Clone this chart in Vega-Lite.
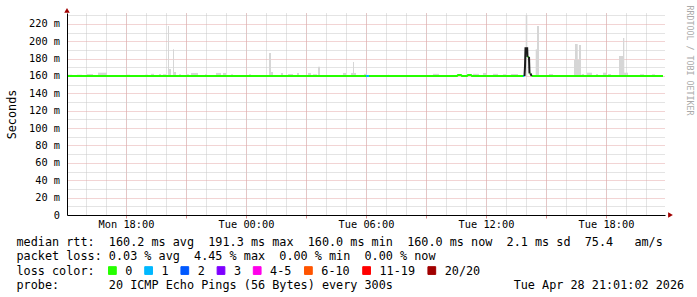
{
  "$schema": "https://vega.github.io/schema/vega-lite/v6.json",
  "width": 598,
  "height": 202,
  "autosize": {"type": "none"},
  "padding": {"left": 67, "top": 13, "right": 32, "bottom": 82},
  "background": "white",
  "config": {"view": {"stroke": null}, "font": "DejaVu Sans Mono"},
  "datasets": {
    "smoke": [
      {"t0": 15.1, "t1": 15.3, "lo": 159.5, "hi": 161.5},
      {"t0": 15.55, "t1": 15.8, "lo": 159.5, "hi": 161.5},
      {"t0": 16.05, "t1": 16.35, "lo": 159.5, "hi": 162.3},
      {"t0": 16.6, "t1": 17.05, "lo": 159.5, "hi": 163.8},
      {"t0": 18.05, "t1": 18.2, "lo": 159.5, "hi": 161.5},
      {"t0": 18.95, "t1": 19.1, "lo": 159.5, "hi": 161.5},
      {"t0": 19.25, "t1": 19.4, "lo": 159.5, "hi": 162.5},
      {"t0": 19.65, "t1": 19.75, "lo": 159.5, "hi": 162.3},
      {"t0": 19.85, "t1": 20.0, "lo": 159.5, "hi": 162},
      {"t0": 20.1, "t1": 20.25, "lo": 159.5, "hi": 168},
      {"t0": 20.1, "t1": 20.15, "lo": 159.5, "hi": 217.6},
      {"t0": 20.35, "t1": 20.5, "lo": 159.5, "hi": 164.6},
      {"t0": 20.35, "t1": 20.4, "lo": 159.5, "hi": 190.7},
      {"t0": 20.65, "t1": 20.75, "lo": 159.5, "hi": 162},
      {"t0": 21.0, "t1": 21.15, "lo": 159.5, "hi": 162},
      {"t0": 21.25, "t1": 21.6, "lo": 159.5, "hi": 163.5},
      {"t0": 21.95, "t1": 22.05, "lo": 159.5, "hi": 162},
      {"t0": 22.5, "t1": 22.75, "lo": 159.5, "hi": 163.5},
      {"t0": 22.85, "t1": 23.0, "lo": 159.5, "hi": 163.5},
      {"t0": 23.25, "t1": 23.35, "lo": 159.5, "hi": 162},
      {"t0": 24.15, "t1": 24.25, "lo": 159.5, "hi": 162},
      {"t0": 25.15, "t1": 25.25, "lo": 159.5, "hi": 186.5},
      {"t0": 25.25, "t1": 25.35, "lo": 159.5, "hi": 164.6},
      {"t0": 25.75, "t1": 25.85, "lo": 159.5, "hi": 163.5},
      {"t0": 26.1, "t1": 26.35, "lo": 159.5, "hi": 162.3},
      {"t0": 26.55, "t1": 26.65, "lo": 159.5, "hi": 163.5},
      {"t0": 27.1, "t1": 27.25, "lo": 159.5, "hi": 163.5},
      {"t0": 27.35, "t1": 27.55, "lo": 159.5, "hi": 162},
      {"t0": 27.6, "t1": 27.7, "lo": 159.5, "hi": 170.7},
      {"t0": 28.85, "t1": 29.0, "lo": 159.5, "hi": 163.5},
      {"t0": 29.25, "t1": 29.5, "lo": 159.5, "hi": 163.5},
      {"t0": 29.35, "t1": 29.4, "lo": 159.5, "hi": 176},
      {"t0": 29.9, "t1": 30.05, "lo": 159.5, "hi": 162.5},
      {"t0": 31.1, "t1": 31.15, "lo": 159.5, "hi": 161.5},
      {"t0": 33.35, "t1": 33.65, "lo": 159.5, "hi": 162.5},
      {"t0": 35.35, "t1": 35.65, "lo": 159.5, "hi": 162.5},
      {"t0": 35.85, "t1": 36.0, "lo": 159.5, "hi": 163.5},
      {"t0": 36.35, "t1": 36.6, "lo": 159.5, "hi": 162.5},
      {"t0": 36.85, "t1": 37.0, "lo": 159.5, "hi": 162},
      {"t0": 37.25, "t1": 37.6, "lo": 159.5, "hi": 162.3},
      {"t0": 37.985, "t1": 38.065, "lo": 159.5, "hi": 230.2},
      {"t0": 38.485, "t1": 38.65, "lo": 159.5, "hi": 190.7},
      {"t0": 38.55, "t1": 38.65, "lo": 159.5, "hi": 217.6},
      {"t0": 39.15, "t1": 39.35, "lo": 159.5, "hi": 162.3},
      {"t0": 40.4, "t1": 40.75, "lo": 159.5, "hi": 178.4},
      {"t0": 40.45, "t1": 40.585, "lo": 159.5, "hi": 196.8},
      {"t0": 40.65, "t1": 40.75, "lo": 159.5, "hi": 195.7},
      {"t0": 40.785, "t1": 40.9, "lo": 159.5, "hi": 162.3},
      {"t0": 41.05, "t1": 41.3, "lo": 159.5, "hi": 163.8},
      {"t0": 41.5, "t1": 41.6, "lo": 159.5, "hi": 162.3},
      {"t0": 41.85, "t1": 42.0, "lo": 159.5, "hi": 163.8},
      {"t0": 42.1, "t1": 42.25, "lo": 159.5, "hi": 162.3},
      {"t0": 42.65, "t1": 42.85, "lo": 159.5, "hi": 183},
      {"t0": 42.85, "t1": 42.915, "lo": 159.5, "hi": 203.7},
      {"t0": 42.9, "t1": 43.1, "lo": 159.5, "hi": 163.8},
      {"t0": 43.7, "t1": 43.9, "lo": 159.5, "hi": 162},
      {"t0": 44.3, "t1": 44.45, "lo": 159.5, "hi": 162}
    ],
    "median": [
      {"seg": "g1", "t": 15.05, "v": 160, "loss": "0"},
      {"seg": "g1", "t": 30.0, "v": 160, "loss": "0"},
      {"seg": "b1", "t": 30.0, "v": 160, "loss": "1"},
      {"seg": "b1", "t": 30.15, "v": 160, "loss": "1"},
      {"seg": "g2", "t": 30.15, "v": 160, "loss": "0"},
      {"seg": "g2", "t": 34.55, "v": 160, "loss": "0"},
      {"seg": "g2", "t": 34.6, "v": 161, "loss": "0"},
      {"seg": "g2", "t": 34.75, "v": 161, "loss": "0"},
      {"seg": "g2", "t": 34.8, "v": 160, "loss": "0"},
      {"seg": "g2", "t": 35.05, "v": 160, "loss": "0"},
      {"seg": "g2", "t": 35.1, "v": 161, "loss": "0"},
      {"seg": "g2", "t": 35.25, "v": 161, "loss": "0"},
      {"seg": "g2", "t": 35.3, "v": 160, "loss": "0"},
      {"seg": "g2", "t": 37.85, "v": 160, "loss": "0"},
      {"seg": "b2", "t": 37.85, "v": 160, "loss": "1"},
      {"seg": "b2", "t": 37.925, "v": 160, "loss": "1"},
      {"seg": "g3", "t": 38.075, "v": 182, "loss": "0"},
      {"seg": "g3", "t": 38.15, "v": 182, "loss": "0"},
      {"seg": "g4", "t": 38.175, "v": 163, "loss": "0"},
      {"seg": "g4", "t": 38.225, "v": 163, "loss": "0"},
      {"seg": "g5", "t": 38.275, "v": 160, "loss": "0"},
      {"seg": "g5", "t": 44.85, "v": 160, "loss": "0"}
    ],
    "dark": [
      {"seg": "k1", "t": 37.925, "v": 160},
      {"seg": "k1", "t": 37.95, "v": 171},
      {"seg": "k1", "t": 37.975, "v": 192},
      {"seg": "k1", "t": 38.06, "v": 192},
      {"seg": "k1", "t": 38.075, "v": 182},
      {"seg": "k2", "t": 38.15, "v": 182},
      {"seg": "k2", "t": 38.175, "v": 163},
      {"seg": "k3", "t": 38.225, "v": 163},
      {"seg": "k3", "t": 38.275, "v": 160}
    ],
    "arrows": [
      {"t": 15.05, "v": 235.4, "shape": "triangle-up"},
      {"t": 45.225, "v": 0, "shape": "triangle-right"}
    ]
  },
  "layer": [
    {
      "data": {"name": "smoke"},
      "mark": {"type": "rect", "color": "#d6d6d6", "opacity": 1},
      "encoding": {
        "x": {"field": "t0", "type": "quantitative",
          "scale": {"domain": [15.05, 44.95], "nice": false, "zero": false},
          "axis": {"orient": "bottom", "values": [16,17,18,19,20,21,22,23,24,25,26,27,28,29,30,31,32,33,34,35,36,37,38,39,40,41,42,43,44],
            "grid": true, "gridColor": "#c8c8c8", "gridDash": [1, 1], "gridWidth": 1,
            "labels": false, "ticks": false, "domain": false, "title": null}},
        "x2": {"field": "t1"},
        "y": {"field": "lo", "type": "quantitative",
          "scale": {"domain": [0, 232.5], "nice": false},
          "axis": {"orient": "left", "values": [10,30,50,70,90,110,130,150,170,190,210,230],
            "grid": true, "gridColor": "#c8c8c8", "gridDash": [1, 1], "gridWidth": 1,
            "labels": false, "ticks": false, "domain": false, "title": null}},
        "y2": {"field": "hi"}
      }
    },
    {
      "data": {"name": "median"},
      "mark": {"type": "point", "shape": "square", "filled": true, "size": 4, "opacity": 0},
      "encoding": {
        "x": {"field": "t", "type": "quantitative",
          "scale": {"domain": [15.05, 44.95], "nice": false, "zero": false}, "axis": null},
        "y": {"field": "v", "type": "quantitative",
          "scale": {"domain": [0, 232.5], "nice": false}, "axis": null},
        "color": {"field": "loss", "type": "nominal",
          "scale": {"domain": ["0","1","2","3","4-5","6-10","11-19","20/20"],
            "range": ["#26ff00","#00b8ff","#0059ff","#7e00ff","#ff00ea","#ff5500","#ff0000","#a10000"]},
          "legend": {"orient": "none", "legendX": 39.5, "legendY": 251.5, "direction": "horizontal",
            "title": null,
            "labelFont": "DejaVu Sans Mono", "labelFontSize": 11.8, "labelColor": "#000", "labelOffset": 7,
            "columnPadding": 10.2, "symbolType": "square", "symbolSize": 60, "padding": 0,
            "symbolOpacity": 1, "symbolStrokeColor": "#000", "symbolStrokeWidth": 1}}
      }
    },
    {
      "data": {"name": "median"},
      "mark": {"type": "line", "strokeWidth": 2, "opacity": 1},
      "encoding": {
        "x": {"field": "t", "type": "quantitative",
          "scale": {"domain": [15.05, 44.95], "nice": false, "zero": false},
          "axis": {"orient": "bottom", "values": [18,21,24,27,30,33,36,39,42],
            "grid": true, "gridColor": "#e4a9a9", "gridDash": [1, 1], "gridWidth": 1,
            "labels": false, "ticks": true, "tickSize": 3, "tickColor": "#d98c8c", "domain": false, "title": null}},
        "y": {"field": "v", "type": "quantitative",
          "scale": {"domain": [0, 232.5], "nice": false},
          "axis": {"orient": "left", "values": [20,40,60,80,100,120,140,160,180,200,220],
            "grid": true, "gridColor": "#e4a9a9", "gridDash": [1, 1], "gridWidth": 1,
            "labels": false, "ticks": false, "domain": false, "title": null}},
        "detail": {"field": "seg"},
        "color": {"field": "loss", "type": "nominal", "legend": null}
      }
    },
    {
      "data": {"name": "dark"},
      "mark": {"type": "line", "strokeWidth": 2, "color": "#1a1a1a", "opacity": 1},
      "encoding": {
        "x": {"field": "t", "type": "quantitative",
          "scale": {"domain": [15.05, 44.95], "nice": false, "zero": false},
          "axis": {"orient": "bottom", "values": [18,24,30,36,42], "zindex": 1,
            "labelExpr": "(datum.value < 24 ? 'Mon ' : 'Tue ') + ((datum.value % 24) < 10 ? '0' : '') + (datum.value % 24) + ':00'",
            "labelFont": "DejaVu Sans Mono", "labelFontSize": 10.3, "labelColor": "#000",
            "labelBaseline": "alphabetic", "labelPadding": 12.3,
            "grid": false, "ticks": false, "domain": true, "domainColor": "#000", "domainWidth": 1,
            "title": [
              "median rtt:\u00a0\u00a0160.2 ms avg\u00a0\u00a0191.3 ms max\u00a0\u00a0160.0 ms min\u00a0\u00a0160.0 ms now\u00a0\u00a02.1 ms sd\u00a0\u00a075.4\u00a0\u00a0\u00a0am/s",
              "packet loss: 0.03 % avg\u00a0\u00a04.45 % max\u00a0\u00a00.00 % min\u00a0\u00a00.00 % now",
              "loss color:",
              "probe:\u00a0\u00a0\u00a0\u00a0\u00a0\u00a0\u00a020 ICMP Echo Pings (56 Bytes) every 300s\u00a0\u00a0\u00a0\u00a0\u00a0\u00a0\u00a0\u00a0\u00a0\u00a0\u00a0\u00a0\u00a0\u00a0\u00a0\u00a0\u00a0Tue Apr 28 21:01:02 2026"
            ],
            "titleFont": "DejaVu Sans Mono", "titleFontSize": 11.8, "titleFontWeight": "normal", "titleColor": "#000",
            "titleX": -51, "titleY": 30.3, "titleAlign": "left", "titleAnchor": "start", "titleBaseline": "alphabetic",
            "titleLineHeight": 14.5}},
        "y": {"field": "v", "type": "quantitative",
          "scale": {"domain": [0, 232.5], "nice": false},
          "axis": {"orient": "left", "values": [0,20,40,60,80,100,120,140,160,180,200,220], "zindex": 1,
            "labelExpr": "datum.value == 0 ? '0' : datum.value + ' m'",
            "labelFont": "DejaVu Sans Mono", "labelFontSize": 10.3, "labelColor": "#000", "labelPadding": 7.5,
            "grid": false, "ticks": false, "domain": true, "domainColor": "#000", "domainWidth": 1,
            "title": "Seconds", "titleFont": "DejaVu Sans Mono", "titleFontSize": 11.8, "titleFontWeight": "normal",
            "titleColor": "#000", "titleX": -56, "titleY": 101, "titleAngle": 270, "titleAlign": "center", "titleBaseline": "middle"}},
        "detail": {"field": "seg"}
      }
    },
    {
      "data": {"name": "arrows"},
      "mark": {"type": "point", "filled": true, "size": 30, "color": "#a00000", "opacity": 1},
      "encoding": {
        "x": {"field": "t", "type": "quantitative",
          "scale": {"domain": [15.05, 44.95], "nice": false, "zero": false}, "axis": null},
        "y": {"field": "v", "type": "quantitative",
          "scale": {"domain": [0, 232.5], "nice": false},
          "axis": {"orient": "right", "labels": false, "ticks": false, "domain": false, "grid": false,
            "title": "RRDTOOL / TOBI OETIKER", "titleAngle": 90, "titleX": 23, "titleY": -8,
            "titleAlign": "left", "titleBaseline": "middle", "titleFont": "DejaVu Sans Mono",
            "titleFontSize": 8.3, "titleFontWeight": "normal", "titleColor": "#aaaaaa"}},
        "shape": {"field": "shape", "type": "nominal", "scale": null}
      }
    }
  ],
  "resolve": {"axis": {"x": "independent", "y": "independent"}}
}
